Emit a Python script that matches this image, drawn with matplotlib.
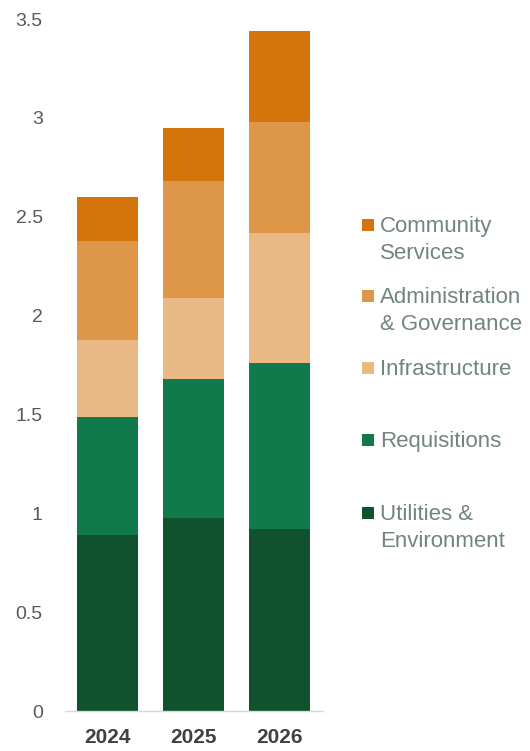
import matplotlib
matplotlib.use("Agg")
import matplotlib.pyplot as plt
import numpy as np
from matplotlib.patches import Rectangle

years = ["2024", "2025", "2026"]
categories = [
    "Utilities &\nEnvironment",
    "Requisitions",
    "Infrastructure",
    "Administration\n& Governance",
    "Community\nServices",
]
utilities = [0.89, 0.98, 0.92]
requisitions = [0.60, 0.70, 0.84]
infrastructure = [0.39, 0.41, 0.66]
administration = [0.50, 0.59, 0.56]
community = [0.22, 0.27, 0.46]
series = [utilities, requisitions, infrastructure, administration, community]

COLORS = ["#11522E", "#117A4D", "#E8B985", "#DE9649", "#D5740B"]
TICK = "#595959"
LEGEND_TEXT = "#72857A"

plt.rcParams["font.family"] = ["Liberation Sans", "DejaVu Sans"]

fig = plt.figure(figsize=(5.30, 7.51), dpi=100)
ax = fig.add_axes([0.1226, 0.0526, 0.4864, 0.9221])

x = np.arange(len(years))
bottom = np.zeros(len(years))
for vals, color in zip(series, COLORS):
    ax.bar(x, vals, bottom=bottom, width=0.71, color=color, edgecolor="none")
    bottom += np.array(vals)

ax.set_xlim(-0.5, 2.5)
ax.set_ylim(0, 3.5)
ax.set_yticks(np.arange(0, 3.51, 0.5), ["0", "0.5", "1", "1.5", "2", "2.5", "3", "3.5"])
ax.set_xticks(x, years)
ax.tick_params(axis="y", length=0, pad=16, labelsize=14, labelcolor=TICK)
ax.tick_params(axis="x", length=0, pad=12, labelsize=15, labelcolor="#404040")
for lab in ax.get_xticklabels():
    lab.set_fontweight("bold")
for name in ["top", "right", "left"]:
    ax.spines[name].set_visible(False)
ax.spines["bottom"].set_color("#D9D9D9")
ax.spines["bottom"].set_linewidth(1.0)

# legend drawn by hand so the uneven spacing of the original is kept
W, H = 530.0, 751.0
legend_rows = [
    (4, 225),
    (3, 296),
    (2, 368),
    (1, 440),
    (0, 513),
]
for idx, ycen in legend_rows:
    fig.patches.append(
        Rectangle((362 / W, 1 - (ycen + 6) / H), 12 / W, 12 / H,
                  transform=fig.transFigure, facecolor=COLORS[idx], edgecolor="none")
    )
    fig.text(380 / W, 1 - (ycen - 9) / H, categories[idx], ha="left", va="top",
             fontsize=16, color=LEGEND_TEXT, linespacing=1.35)

fig.savefig("out.png", dpi=100, facecolor="white")
